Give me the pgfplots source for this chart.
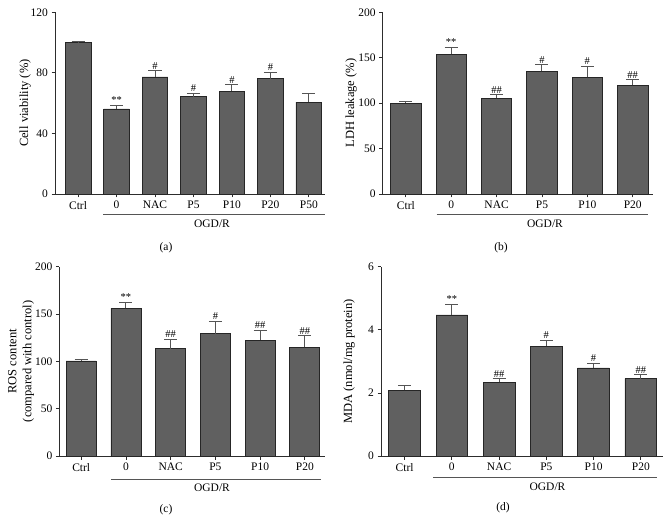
\documentclass[border=0pt]{standalone}
\usepackage{fontspec}
\setmainfont{Liberation Serif}
\usepackage{pgfplots}
\pgfplotsset{compat=1.18}
\definecolor{barfill}{RGB}{96,96,96}
\definecolor{axisgray}{RGB}{45,45,45}
\definecolor{errgray}{RGB}{85,85,85}
\pgfplotsset{
 panel/.style={
  scale only axis,
  axis x line*=bottom, axis y line*=left,
  axis line style={axisgray, line width=0.9pt},
  tick align=outside, major tick length=3.5pt,
  tick style={axisgray, line width=0.8pt},
  ymin=0,
  font=\fontsize{11.5}{13}\selectfont,
  /pgf/number format/assume math mode=true,
  ylabel style={font=\fontsize{12.5}{15}\selectfont, anchor=center, align=center},
  clip=false,
 },
 bars/.style={ybar, bar width=0.67, fill=barfill, draw=black!85, line width=0.8pt,
   error bars/.cd, y dir=plus, y explicit, error mark=|,
   error bar style={line width=1pt, color=errgray},
   error mark options={line width=1pt, mark size=6.5pt, color=errgray}},
 sig/.style={draw=none, nodes near coords, point meta=explicit symbolic,
   nodes near coords style={font=\fontsize{10.5}{12}\selectfont, anchor=south, inner sep=1.5pt, text=black}},
}
\begin{document}
\begin{tikzpicture}
\useasboundingbox (0,0) rectangle (672pt,520pt);
% (a)
\begin{axis}[panel, at={(55pt,326pt)}, anchor=south west, width=270pt, height=181.7pt,
  xmin=-0.6, xmax=6.42, ymax=120, ytick={0,40,80,120},
  xtick={0,...,6}, xticklabels={Ctrl,0,NAC,P5,P10,P20,P50},
  ylabel={Cell viability (\%)}, ylabel style={at={(axis description cs:-0.111,0.5)}}]
\addplot[bars] coordinates {(0,100) +- (0,0.5) (1,56.2) +- (0,2.2) (2,77.3) +- (0,4.0) (3,64.3) +- (0,2.2) (4,68) +- (0,4.0) (5,76.2) +- (0,4.2) (6,60.6) +- (0,5.9)};
\addplot[sig] coordinates {(1,58.4)[**] (2,81.3)[\#] (3,66.5)[\#] (4,72)[\#] (5,80.4)[\#]};
\end{axis}
% (b)
\begin{axis}[panel, at={(382.7pt,326pt)}, anchor=south west, width=270pt, height=181.7pt,
  xmin=-0.51, xmax=5.44, ymax=200, ytick={0,50,100,150,200},
  xtick={0,...,5}, xticklabels={Ctrl,0,NAC,P5,P10,P20},
  ylabel={LDH leakage (\%)}, ylabel style={at={(axis description cs:-0.117,0.5)}}]
\addplot[bars] coordinates {(0,100) +- (0,1.5) (1,153.8) +- (0,7.7) (2,105.3) +- (0,4.0) (3,135) +- (0,7.0) (4,128.4) +- (0,12.1) (5,119.6) +- (0,6.2)};
\addplot[sig] coordinates {(1,161.5)[**] (2,109.3)[\#\#] (3,142)[\#] (4,140.5)[\#] (5,125.8)[\#\#]};
\end{axis}
% (c)
\begin{axis}[panel, at={(59.3pt,64pt)}, anchor=south west, width=265.7pt, height=189.3pt,
  xmin=-0.49, xmax=5.45, ymax=200, ytick={0,50,100,150,200},
  xtick={0,...,5}, xticklabels={Ctrl,0,NAC,P5,P10,P20},
  ylabel={ROS content\\(compared with control)}, ylabel style={at={(axis description cs:-0.144,0.5)}}]
\addplot[bars] coordinates {(0,100.4) +- (0,1.6) (1,156) +- (0,6.3) (2,113.4) +- (0,10.2) (3,129.2) +- (0,13.1) (4,122.5) +- (0,10.2) (5,114.8) +- (0,12)};
\addplot[sig] coordinates {(1,162.3)[**] (2,123.6)[\#\#] (3,142.3)[\#] (4,132.7)[\#\#] (5,126.8)[\#\#]};
\end{axis}
% (d)
\begin{axis}[panel, at={(381pt,64pt)}, anchor=south west, width=282pt, height=189.3pt,
  xmin=-0.5, xmax=5.47, ymax=6, ytick={0,2,4,6},
  xtick={0,...,5}, xticklabels={Ctrl,0,NAC,P5,P10,P20},
  ylabel={MDA (nmol/mg protein)}, ylabel style={at={(axis description cs:-0.113,0.5)}}]
\addplot[bars] coordinates {(0,2.08) +- (0,0.14) (1,4.47) +- (0,0.34) (2,2.33) +- (0,0.12) (3,3.48) +- (0,0.19) (4,2.79) +- (0,0.15) (5,2.45) +- (0,0.12)};
\addplot[sig] coordinates {(1,4.81)[**] (2,2.45)[\#\#] (3,3.67)[\#] (4,2.95)[\#] (5,2.57)[\#\#]};
\end{axis}
% group lines and captions
\begin{scope}[font=\fontsize{11.5}{13}\selectfont]
\draw[errgray, line width=0.9pt] (103pt,305.3pt) -- (325pt,305.3pt);
\node at (212pt,296.7pt) {OGD/R};
\node at (166pt,272pt) {(a)};
\draw[errgray, line width=0.9pt] (436.7pt,306pt) -- (647.7pt,306pt);
\node at (545pt,296.7pt) {OGD/R};
\node at (501pt,272pt) {(b)};
\draw[errgray, line width=0.9pt] (111pt,41pt) -- (320.7pt,41pt);
\node at (212pt,32.3pt) {OGD/R};
\node at (166pt,10pt) {(c)};
\draw[errgray, line width=0.9pt] (433.3pt,42.3pt) -- (656.7pt,42.3pt);
\node at (547.5pt,33.3pt) {OGD/R};
\node at (503pt,12pt) {(d)};
\end{scope}
\end{tikzpicture}
\end{document}
